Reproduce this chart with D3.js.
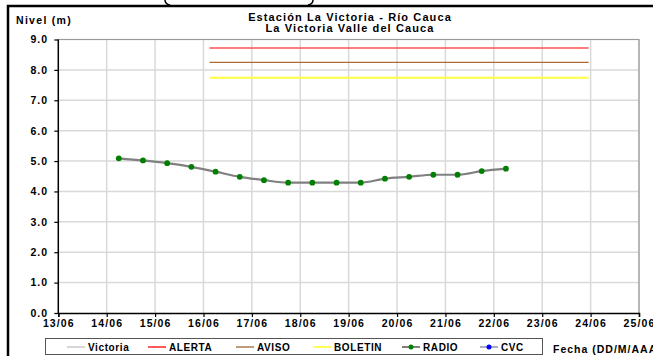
<!DOCTYPE html>
<html><head><meta charset="utf-8">
<script src="https://cdn.jsdelivr.net/npm/d3@7"></script>
<style>
html,body{margin:0;padding:0;background:#fff;}
svg{display:block;font-family:"Liberation Sans",Arial,sans-serif;font-weight:bold;}
</style></head>
<body>
<svg id="c" width="653" height="356"></svg>
<script>
// ---- data ----
const titleLines = ["Estación La Victoria - Río Cauca", "La Victoria Valle del Cauca"];
const yLabel = "Nivel (m)";
const xLabel = "Fecha (DD/M/AAAA)";
const xTickLabels = ["13/06","14/06","15/06","16/06","17/06","18/06","19/06","20/06","21/06","22/06","23/06","24/06","25/06"];
const yTickValues = [0,1,2,3,4,5,6,7,8,9];
const radioTimes = ["14/06 06:00","14/06 18:00","15/06 06:00","15/06 18:00","16/06 06:00","16/06 18:00","17/06 06:00","17/06 18:00","18/06 06:00","18/06 18:00","19/06 06:00","19/06 18:00","20/06 06:00","20/06 18:00","21/06 06:00","21/06 18:00","22/06 06:00"];
const radioValues = [5.09,5.02,4.93,4.81,4.65,4.48,4.37,4.29,4.29,4.29,4.29,4.42,4.48,4.55,4.55,4.67,4.75];
const thresholdNames = ["ALERTA","AVISO","BOLETIN"];
const thresholdValues = [8.72,8.25,7.74];
const thresholdStart = "16/06 03:00";
const thresholdEnd = "23/06 23:00";
const legendNames = ["Victoria","ALERTA","AVISO","BOLETIN","RADIO","CVC"];

// ---- setup ----
const parse = d3.timeParse("%d/%m %H:%M");
const svg = d3.select("#c");
const L = 58.3, R = 639, T = 39.5, B = 313;
const x = d3.scaleTime().domain([parse("13/06 00:00"), parse("25/06 00:00")]).range([L, R]);
const y = d3.scaleLinear().domain([0, 9]).range([B, T]);
const tickDates = xTickLabels.map(s => parse(s + " 00:00"));

// outer frame
svg.append("path").attr("d", `M8,356 L8,6 L653,6`).attr("fill","none").attr("stroke","#000").attr("stroke-width",2.5);
// decorative arcs at top
svg.append("path").attr("d","M165,0 Q165,4 170,5").attr("fill","none").attr("stroke","#000").attr("stroke-width",1.5);
svg.append("path").attr("d","M313,0 Q313,4 308,5").attr("fill","none").attr("stroke","#000").attr("stroke-width",1.5);

// gridlines
const grid = svg.append("g");
grid.selectAll("line.h").data(yTickValues.filter(v => v > 0)).join("line")
  .attr("x1", L).attr("x2", R).attr("y1", d => y(d)).attr("y2", d => y(d))
  .attr("stroke", "#d9d9d9").attr("stroke-width", 1.5);
grid.selectAll("line.v").data(tickDates.slice(1)).join("line")
  .attr("x1", d => x(d)).attr("x2", d => x(d)).attr("y1", T).attr("y2", B)
  .attr("stroke", "#d9d9d9").attr("stroke-width", 1.5);
// top & right border
svg.append("path").attr("d", `M${L},${T} L${R},${T} L${R},${B}`).attr("fill","none").attr("stroke","#9a9a9a").attr("stroke-width",1.2);

// axes
const yAxis = svg.append("g").attr("transform", `translate(${L},0)`)
  .call(d3.axisLeft(y).tickValues(yTickValues).tickFormat(d3.format(".1f")).tickSize(4).tickPadding(6));
const xAxis = svg.append("g").attr("transform", `translate(0,${B})`)
  .call(d3.axisBottom(x).tickValues(tickDates).tickFormat((d,i) => xTickLabels[i]).tickSize(4).tickPadding(3));
[yAxis, xAxis].forEach(a => {
  a.select(".domain").attr("stroke", "#000").attr("stroke-width", 1.5);
  a.selectAll(".tick line").attr("stroke", "#000").attr("stroke-width", 1.2);
  a.selectAll("text").attr("fill", "#000").attr("font-size", 10.5).attr("font-weight", "bold")
    .attr("letter-spacing", 1.1)
    .attr("font-family", '"Liberation Sans",Arial,sans-serif');
});
yAxis.select(".domain").attr("d", `M0,${B}V${T}`);

// thresholds
const thrColors = ["#ff5050","#b06a30","#ffff40"];
const thrWidths = [1.6,1.3,2];
thresholdValues.forEach((v, i) => {
  svg.append("line").attr("x1", x(parse(thresholdStart))).attr("x2", x(parse(thresholdEnd)))
    .attr("y1", y(v)).attr("y2", y(v)).attr("stroke", thrColors[i]).attr("stroke-width", thrWidths[i]);
});

// RADIO series
const pts = radioTimes.map((t, i) => ({ d: parse(t), v: radioValues[i] }));
svg.append("path").datum(pts)
  .attr("d", d3.line().x(p => x(p.d)).y(p => y(p.v)).curve(d3.curveMonotoneX))
  .attr("fill","none").attr("stroke","#808080").attr("stroke-width",2.2);
svg.selectAll("circle.r").data(pts).join("circle")
  .attr("cx", p => x(p.d)).attr("cy", p => y(p.v)).attr("r", 2.9).attr("fill", "#008000");

// titles
svg.append("text").attr("x", 350).attr("y", 20.5).attr("text-anchor","middle").attr("font-size",11).attr("letter-spacing",1.1).text(titleLines[0]);
svg.append("text").attr("x", 350).attr("y", 32).attr("text-anchor","middle").attr("font-size",11).attr("letter-spacing",1.1).text(titleLines[1]);
svg.append("text").attr("x", 16).attr("y", 24).attr("font-size",10.5).attr("letter-spacing",1.3).text(yLabel);
svg.append("text").attr("x", 553).attr("y", 352.5).attr("font-size",10.5).attr("letter-spacing",1).text(xLabel);

// legend
svg.append("rect").attr("x",45.5).attr("y",338.5).attr("width",497).attr("height",16)
  .attr("fill","#fff").attr("stroke","#555").attr("stroke-width",1);
const legColors = ["#c0c0c0","#ff0000","#996633","#ffff00","#808080","#8080a0"];
const legX = [67,148,236,313,402,480];
const legDots = [null,null,null,null,"#008000","#0000ff"];
legendNames.forEach((n, i) => {
  const g = svg.append("g");
  g.append("line").attr("x1", legX[i]).attr("x2", legX[i] + 18).attr("y1", 347).attr("y2", 347)
    .attr("stroke", legColors[i]).attr("stroke-width", i === 4 ? 2 : 1.3);
  if (legDots[i]) g.append("circle").attr("cx", legX[i] + 9).attr("cy", 347).attr("r", 2.5).attr("fill", legDots[i]);
  g.append("text").attr("x", legX[i] + 21).attr("y", 350.5).attr("font-size", 10).attr("letter-spacing", 0.6).text(n);
});
</script>
</body></html>
